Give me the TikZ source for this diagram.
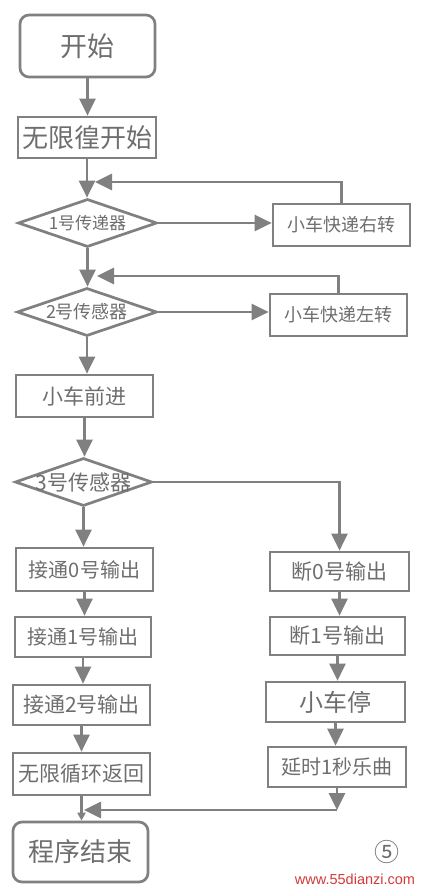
\documentclass[tikz,border=0pt]{standalone}
\usepackage{fontspec}
\newfontfamily\cjk{Noto Sans CJK SC}
\setsansfont{Liberation Sans}
\usetikzlibrary{shapes.geometric,arrows.meta}
\definecolor{ln}{HTML}{808080}
\definecolor{tx}{HTML}{6E6E6E}
\definecolor{wm}{HTML}{D43A3A}
\begin{document}
\begin{tikzpicture}[x=1pt,y=-1pt,
  fs/.style={font=\cjk\fontsize{#1}{#1}\selectfont},
  stepbox/.style={draw=ln,line width=2.7pt,rectangle,inner sep=0pt,text=tx,align=center},
  termbox/.style={stepbox,rounded corners=9pt},
  decbox/.style={draw=ln,line width=2.7pt,diamond,inner sep=0pt,text=tx,shape aspect=2.9},
  arr/.style={draw=ln,line width=2.7pt,-{Triangle[length=17pt,width=16pt]}},
  arrs/.style={draw=ln,line width=2.7pt,-{Triangle[length=8pt,width=8pt]}}
]
\useasboundingbox[fill=white] (0,0) rectangle (425,890);

\node[termbox,fs=27,minimum width=135pt,minimum height=62pt] (start) at (87.5,46) {开始};
\node[stepbox,fs=26,minimum width=138pt,minimum height=41pt] (inf) at (87,137.5) {无限徨开始};
\node[decbox,fs=17,minimum width=139pt,minimum height=48pt] (d1) at (87.5,223) {\makebox[0pt]{1号传递器}};
\node[stepbox,fs=18,minimum width=137pt,minimum height=42pt] (r1) at (341.5,225) {小车快递右转};
\node[decbox,fs=18,minimum width=140pt,minimum height=48pt] (d2) at (87,312) {\makebox[0pt]{2号传感器}};
\node[stepbox,fs=18,minimum width=137pt,minimum height=42pt] (r2) at (338.5,315) {小车快递左转};
\node[stepbox,fs=21,minimum width=137pt,minimum height=42pt] (fwd) at (84.5,396) {小车前进};
\node[decbox,fs=21,minimum width=137pt,minimum height=48pt] (d3) at (83.5,482) {\makebox[0pt]{3号传感器}};
\node[stepbox,fs=20,minimum width=137pt,minimum height=43pt] (L0) at (84.5,569.5) {接通0号输出};
\node[stepbox,fs=21,minimum width=139pt,minimum height=39pt] (R0) at (339.5,571.5) {断0号输出};
\node[stepbox,fs=20,minimum width=136pt,minimum height=40pt] (L1) at (83,637) {接通1号输出};
\node[stepbox,fs=21,minimum width=135pt,minimum height=38pt] (R1) at (337.5,636) {断1号输出};
\node[stepbox,fs=21,minimum width=137pt,minimum height=40pt] (L2) at (81.5,705) {接通2号输出};
\node[stepbox,fs=24,minimum width=139pt,minimum height=40pt] (R2) at (335.5,702) {小车停};
\node[stepbox,fs=21,minimum width=137pt,minimum height=42pt] (L3) at (81.5,774) {无限循环返回};
\node[stepbox,fs=20,minimum width=138pt,minimum height=40pt] (R3) at (337,767) {延时1秒乐曲};
\node[termbox,fs=26,minimum width=135pt,minimum height=60pt] (end) at (80.5,852) {程序结束};

\node[fs=25,text=tx,inner sep=0pt] (num) at (387,852) {⑤};
\node[font=\sffamily\fontsize{14.5}{14.5}\selectfont,text=wm,inner sep=0pt] (wmk) at (355,879) {www.55dianzi.com};

\coordinate (m1) at (95,182);
\coordinate (m2) at (97,276);
\coordinate (m3) at (84,810);
\coordinate (c3) at (R3.south |- m3);

\draw[arr] (start.south) -- (start.south |- inf.north);
\draw[arr] (inf.south) -- (inf.south |- d1.north);
\draw[arr] (d1.east) -- (d1.east -| r1.west);
\draw[arr] (r1.north) |- (m1);
\draw[arr] (d1.south) -- (d1.south |- d2.north);
\draw[arr] (d2.east) -- (d2.east -| r2.west);
\draw[arr] (r2.north) |- (m2);
\draw[arr] (d2.south) -- (d2.south |- fwd.north);
\draw[arr] (fwd.south) -- (fwd.south |- d3.north);
\draw[arr] (d3.south) -- (d3.south |- L0.north);
\draw[arr] (d3.east) -| (R0.north);
\draw[arr] (L0.south) -- (L0.south |- L1.north);
\draw[arr] (L1.south) -- (L1.south |- L2.north);
\draw[arr] (L2.south) -- (L2.south |- L3.north);
\draw[arrs] (L3.south) -- (L3.south |- end.north);
\draw[arr] (R0.south) -- (R0.south |- R1.north);
\draw[arr] (R1.south) -- (R1.south |- R2.north);
\draw[arr] (R2.south) -- (R2.south |- R3.north);
\draw[arr] (R3.south) -- (c3);
\draw[arr] (c3) -- (m3);
\end{tikzpicture}
\end{document}
